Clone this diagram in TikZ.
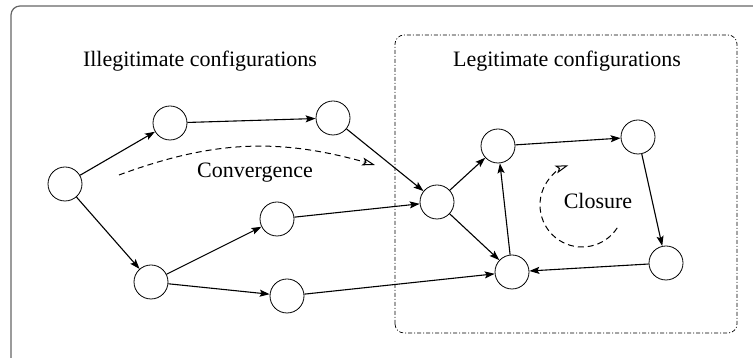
\documentclass[tikz,border=0pt]{standalone}
\usepackage{fontspec}
\setmainfont{Liberation Serif}
\usetikzlibrary{arrows.meta}
\tikzset{
  state/.style={draw, circle, line width=0.8pt, minimum size=34pt, inner sep=0pt},
  edge/.style={line width=1.1pt, -{Stealth[length=10pt,width=7pt,inset=2pt]}},
  flow/.style={line width=1pt, dash pattern=on 6pt off 4pt, -{Stealth[open,length=13pt,width=8pt,inset=3pt]}},
  lbl/.style={font=\fontsize{22}{26}\selectfont}
}
\begin{document}
\begin{tikzpicture}[x=10pt, y=10pt]

\clip (0,0) rectangle (75.3,35.8);
\draw [line width=1.2pt, gray!80!black, rounded corners=9pt] (1.1,-2) rectangle (78,35.2);
\draw [line width=0.7pt, rounded corners=9pt, dash pattern=on 4pt off 2pt on 1pt off 2pt] (39.5,2.5) rectangle (73.7,32.3);

% configurations
\node [state] (a) at (6.5,17.4) {};
\node [state] (b) at (17.0,23.5) {};
\node [state] (c) at (33.3,24.0) {};
\node [state] (d) at (27.7,13.9) {};
\node [state] (e) at (15.1,7.6) {};
\node [state] (f) at (28.7,6.2) {};
\node [state] (g) at (43.7,15.6) {};
\node [state] (h) at (49.8,21.2) {};
\node [state] (i) at (63.8,22.1) {};
\node [state] (j) at (66.6,9.5) {};
\node [state] (k) at (51.2,8.6) {};

\foreach \s/\t in {a/b, b/c, c/g, a/e, e/d, e/f, d/g, f/k, g/h, g/k, k/h, h/i, i/j, j/k}{
\draw [edge] (\s) -- (\t);
}

\node [lbl] (ill) at (20.0,29.7) {Illegitimate configurations};
\node [lbl] (leg) at (56.7,29.7) {Legitimate configurations};
\node [lbl] (conv) at (25.5,18.5) {Convergence};
\node [lbl] (clos) at (59.8,15.7) {Closure};

\coordinate (cs) at (11.9,18.3);
\coordinate (ce) at (37.5,19.3);
\draw [flow] (cs) to [bend left=18] (ce);
\coordinate (cc) at (58.2,15.3);
\draw [flow] (cc) ++(-33:4.2) arc [start angle=-33, end angle=-251, radius=4.2];
\end{tikzpicture}
\end{document}
